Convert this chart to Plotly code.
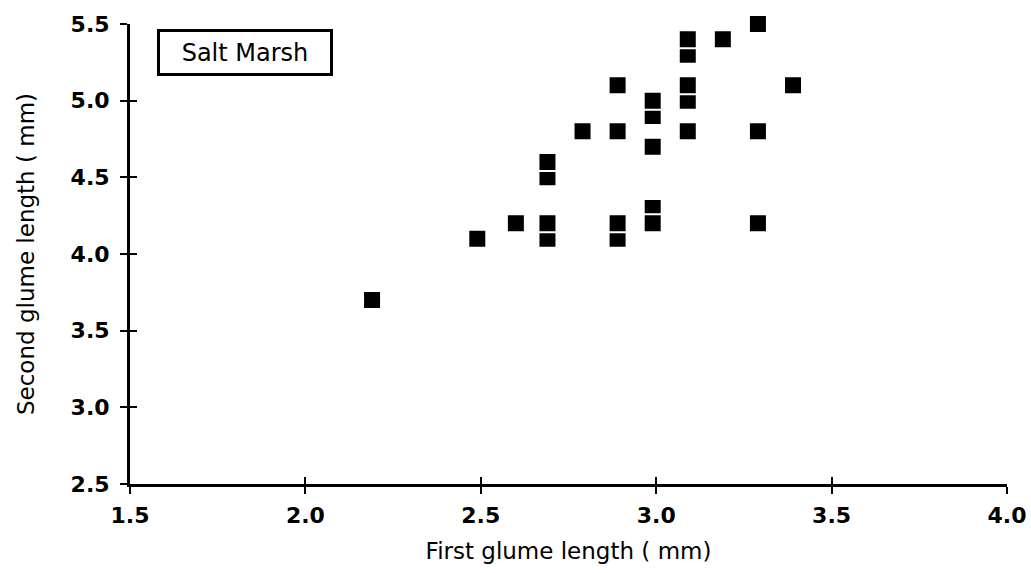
import plotly.graph_objects as go

# First and second glume lengths (mm), salt marsh sample
first_glume = [2.19, 2.49, 2.60, 2.69, 2.69, 2.69, 2.69, 2.79, 2.89, 2.89, 2.89, 2.89,
               2.99, 2.99, 2.99, 2.99, 2.99, 2.99, 3.09, 3.09, 3.09, 3.09, 3.09, 3.09,
               3.19, 3.29, 3.29, 3.29, 3.39]
second_glume = [3.7, 4.1, 4.2, 4.1, 4.2, 4.5, 4.6, 4.8, 4.1, 4.2, 4.8, 5.1,
                4.2, 4.3, 4.7, 4.9, 5.0, 4.2, 4.8, 5.0, 5.1, 5.3, 5.4, 4.8,
                5.4, 4.2, 4.8, 5.5, 5.1]

x_ticks = [1.5, 2.0, 2.5, 3.0, 3.5, 4.0]
y_ticks = [2.5, 3.0, 3.5, 4.0, 4.5, 5.0, 5.5]
x_range = [1.5, 4.0]
y_range = [2.5, 5.5]

tick_font = dict(family="DejaVu Sans", size=22, color="black", weight="bold")
title_font = dict(family="DejaVu Sans", size=23, color="black")

fig = go.Figure()
fig.add_trace(go.Scatter(
    x=first_glume, y=second_glume, mode="markers", cliponaxis=False,
    marker=dict(symbol="square", size=18, color="black", line=dict(width=2, color="white")),
    showlegend=False, hoverinfo="x+y",
))

axis_common = dict(showgrid=False, zeroline=False, showline=True, linecolor="black",
                   linewidth=3, ticks="outside", ticklen=7, tickwidth=2, tickcolor="black",
                   automargin=False)

fig.update_layout(
    width=1031, height=573,
    margin=dict(l=130, r=24, t=24, b=89),
    paper_bgcolor="white", plot_bgcolor="white",
    xaxis=dict(range=x_range, tickvals=x_ticks, ticktext=[f"{v:.1f}" for v in x_ticks],
               tickfont=tick_font, ticklabelstandoff=3,
               title=dict(text="First glume length ( mm)", font=title_font, standoff=16),
               **axis_common),
    yaxis=dict(range=y_range, tickvals=y_ticks, ticktext=[f"{v:.1f}" for v in y_ticks],
               tickfont=tick_font, ticklabelstandoff=6,
               title=dict(text="Second glume length ( mm)", font=title_font, standoff=30),
               **axis_common),
    # overlay axes give the ticks their inward half so they cross the axis line
    xaxis2=dict(range=x_range, tickvals=x_ticks, overlaying="x", side="bottom", anchor="y",
                showticklabels=False, showgrid=False, zeroline=False, showline=False,
                ticks="inside", ticklen=7, tickwidth=2, tickcolor="black", automargin=False),
    yaxis2=dict(range=y_range, tickvals=y_ticks, overlaying="y", side="left", anchor="x",
                showticklabels=False, showgrid=False, zeroline=False, showline=False,
                ticks="inside", ticklen=7, tickwidth=2, tickcolor="black", automargin=False),
)

# invisible trace to activate the overlay axes
fig.add_trace(go.Scatter(x=[x_range[0]], y=[y_range[0]], xaxis="x2", yaxis="y2",
                         mode="markers", marker=dict(opacity=0), showlegend=False,
                         hoverinfo="skip"))

fig.add_annotation(
    text="Salt Marsh", xref="paper", yref="paper", x=0.131, y=0.939,
    xanchor="center", yanchor="middle", showarrow=False,
    font=dict(family="DejaVu Sans", size=24, color="black"),
    bordercolor="black", borderwidth=3, borderpad=0, bgcolor="white",
    width=170, height=41,
)

fig.write_html("out.html")
